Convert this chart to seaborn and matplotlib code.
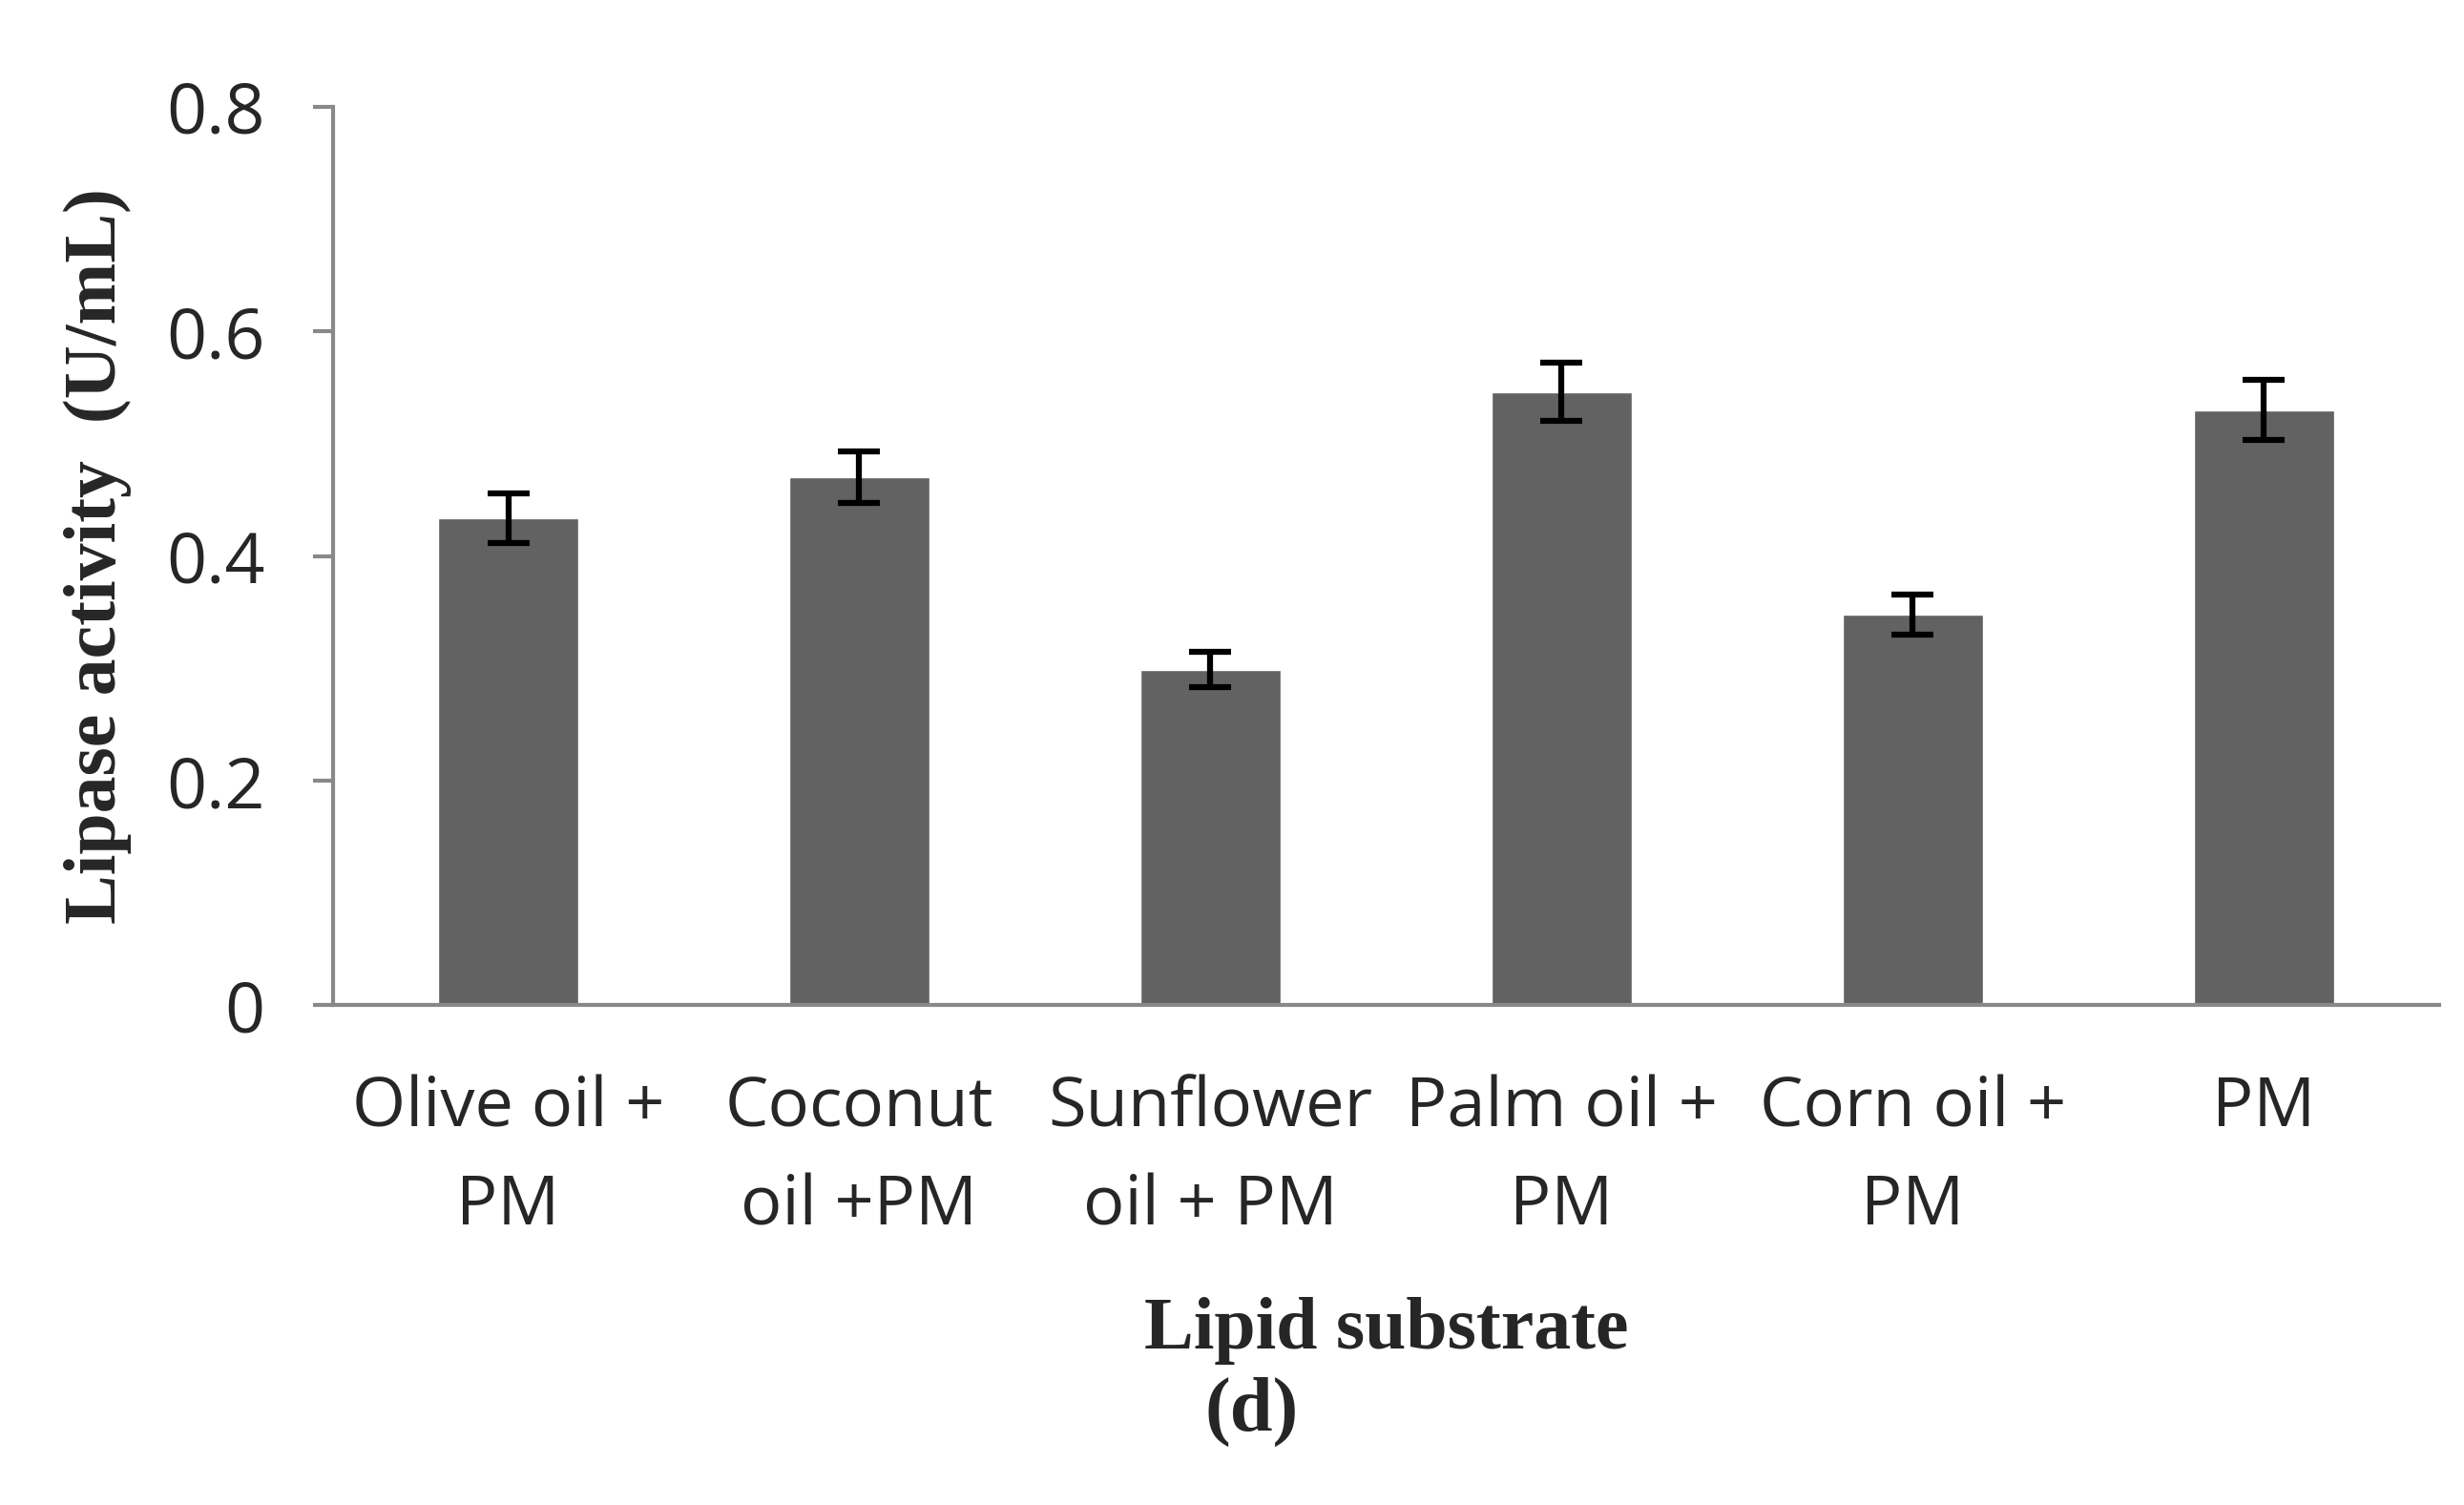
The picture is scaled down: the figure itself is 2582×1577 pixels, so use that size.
import numpy as np
import pandas as pd
import matplotlib
matplotlib.use("Agg")
import matplotlib.pyplot as plt
import seaborn as sns

sns.set_style("white")
plt.rcParams['font.family'] = ['Open Sans', 'DejaVu Sans']

substrates = ['Olive oil +\nPM', 'Coconut\noil +PM', 'Sunflower\noil + PM',
              'Palm oil +\nPM', 'Corn oil +\nPM', 'PM']
activity = [0.434, 0.470, 0.299, 0.546, 0.348, 0.530]
activity_err = [0.022, 0.023, 0.016, 0.026, 0.018, 0.027]

df = pd.DataFrame({'substrate': substrates, 'activity': activity})

fig = plt.figure(figsize=(25.82, 15.77), dpi=100)
ax = fig.add_axes([0.135, 0.332, 0.855, 0.597])

sns.barplot(data=df, x='substrate', y='activity', color='#626262',
            saturation=1, width=0.4, errorbar=None, ax=ax)
ax.errorbar(np.arange(len(activity)), activity, yerr=activity_err, fmt='none',
            ecolor='black', elinewidth=4.5, capsize=16, capthick=4.5)

ax.set_ylim(0, 0.8)
ax.set_xlim(-0.5, len(activity) - 0.5)
ax.set_yticks([0, 0.2, 0.4, 0.6, 0.8])
ax.set_yticklabels(['0', '0.2', '0.4', '0.6', '0.8'])

sns.despine(ax=ax)
for s in ['left', 'bottom']:
    ax.spines[s].set_color('#898989')
    ax.spines[s].set_linewidth(3)

ax.tick_params(axis='y', length=15, width=3, color='#898989', pad=36,
               labelsize=53, left=True)
ax.tick_params(axis='x', length=0, pad=52, labelsize=52)
for lbl in ax.get_xticklabels():
    lbl.set_linespacing(1.58)
    lbl.set_verticalalignment('top')

ax.set_xlabel('Lipid substrate', family=['Liberation Serif'], fontweight='bold',
              fontsize=56, labelpad=42)
ax.set_ylabel('Lipase activity  (U/mL)', family=['Liberation Serif'],
              fontweight='bold', fontsize=56, labelpad=26)
fig.text(0.508, 0.062, '(d)', family=['Liberation Serif'], fontweight='bold',
         fontsize=58, ha='center', va='center')

fig.savefig('out.png', dpi=100)
